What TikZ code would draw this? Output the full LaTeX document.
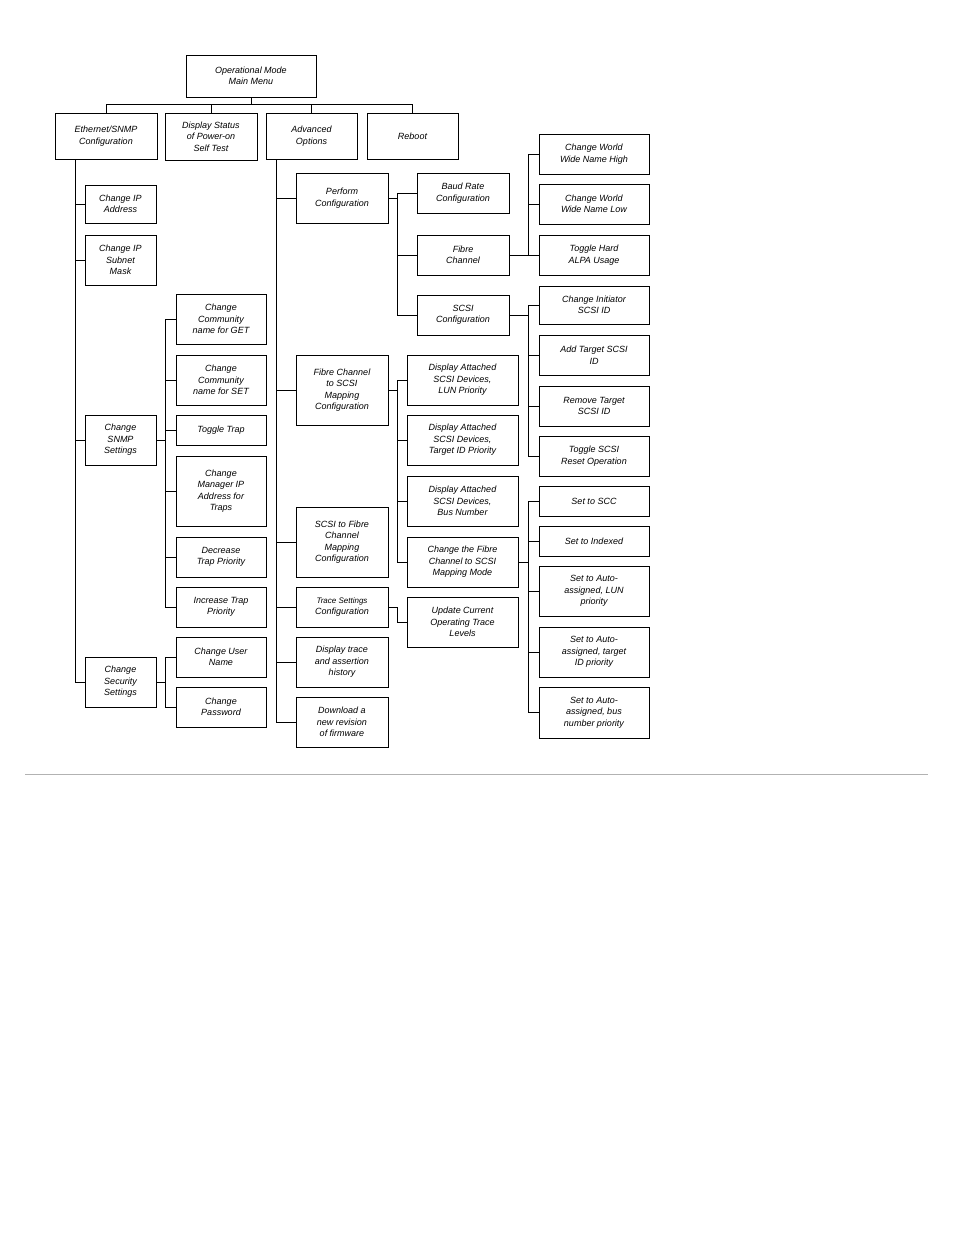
\documentclass[tikz,border=0pt]{standalone}
\usepackage{fontspec}
\setmainfont{Liberation Sans}
\begin{document}
\newcommand{\bx}[6]{\node[menubox,minimum width=#4-#2,minimum height=#5-#3] (#1) at ({(#2+#4)/2},{(#3+#5)/2}) {#6};}
\begin{tikzpicture}[x=1pt,y=-1pt,
  menubox/.style={draw,thick,inner sep=1pt,align=center,font=\fontsize{9}{11.5}\selectfont\itshape},
  link/.style={draw,thick}]
\useasboundingbox (0,0) rectangle (954,1235);
% top level
\bx{main}{186}{55}{316}{97}{Operational Mode\\Main Menu}
\bx{eth}{55}{113}{157}{159}{Ethernet/SNMP\\Configuration}
\bx{post}{165}{113}{257}{160}{Display Status\\of Power-on\\Self Test}
\bx{adv}{266}{113}{357}{159}{Advanced\\Options}
\bx{reboot}{367}{113}{458}{159}{Reboot}
\coordinate (bus) at (251,104);
\draw[link] (main.south) -- (bus);
\draw[link] (bus) -| (eth.north);
\draw[link] (bus) -| (post.north);
\draw[link] (bus) -| (adv.north);
\draw[link] (bus) -| (reboot.north);
% ethernet branch
\bx{cip}{85}{185}{156}{223}{Change IP\\Address}
\bx{cmask}{85}{235}{156}{285}{Change IP\\Subnet\\Mask}
\bx{snmp}{85}{415}{156}{465}{Change\\SNMP\\Settings}
\bx{secur}{85}{657}{156}{707}{Change\\Security\\Settings}
\coordinate (ethsp) at (75,159);
\draw[link] (ethsp) |- (cip.west);
\draw[link] (ethsp) |- (cmask.west);
\draw[link] (ethsp) |- (snmp.west);
\draw[link] (ethsp) |- (secur.west);
% snmp settings
\bx{gcom}{176}{294}{266}{344}{Change\\Community\\name for GET}
\bx{scom}{176}{355}{266}{405}{Change\\Community\\name for SET}
\bx{trap}{176}{415}{266}{445}{Toggle Trap}
\bx{mgr}{176}{456}{266}{526}{Change\\Manager IP\\Address for\\Traps}
\bx{decr}{176}{537}{266}{577}{Decrease\\Trap Priority}
\bx{incr}{176}{587}{266}{627}{Increase Trap\\Priority}
\coordinate (snmpsp) at (165,440);
\draw[link] (snmp.east) -- (snmpsp);
\draw[link] (snmpsp) |- (gcom.west);
\draw[link] (snmpsp) |- (scom.west);
\draw[link] (snmpsp) |- (trap.west);
\draw[link] (snmpsp) |- (mgr.west);
\draw[link] (snmpsp) |- (decr.west);
\draw[link] (snmpsp) |- (incr.west);
% security settings
\bx{user}{176}{637}{266}{677}{Change User\\Name}
\bx{pass}{176}{687}{266}{727}{Change\\Password}
\coordinate (secsp) at (165,682);
\draw[link] (secur.east) -- (secsp);
\draw[link] (secsp) |- (user.west);
\draw[link] (secsp) |- (pass.west);
% advanced options
\bx{perf}{296}{173}{388}{223}{Perform\\Configuration}
\bx{map}{296}{355}{388}{425}{Fibre Channel\\to SCSI\\Mapping\\Configuration}
\bx{rmap}{296}{507}{388}{577}{SCSI to Fibre\\Channel\\Mapping\\Configuration}
\bx{trace}{296}{587}{388}{627}{\fontsize{8}{10}\selectfont Trace Settings\\Configuration}
\bx{hist}{296}{637}{388}{687}{Display trace\\and assertion\\history}
\bx{fw}{296}{697}{388}{747}{Download a\\new revision\\of firmware}
\coordinate (advsp) at (276,159);
\draw[link] (advsp) |- (perf.west);
\draw[link] (advsp) |- (map.west);
\draw[link] (advsp) |- (rmap.west);
\draw[link] (advsp) |- (trace.west);
\draw[link] (advsp) |- (hist.west);
\draw[link] (advsp) |- (fw.west);
% perform configuration
\bx{baud}{417}{173}{509}{213}{Baud Rate\\Configuration}
\bx{fc}{417}{235}{509}{275}{Fibre\\Channel}
\bx{scsi}{417}{295}{509}{335}{SCSI\\Configuration}
\coordinate (perfsp) at (397,198);
\draw[link] (perf.east) -- (perfsp);
\draw[link] (perfsp) |- (baud.west);
\draw[link] (perfsp) |- (fc.west);
\draw[link] (perfsp) |- (scsi.west);
% fibre channel
\bx{wwnh}{539}{134}{649}{174}{Change World\\Wide Name High}
\bx{wwnl}{539}{184}{649}{224}{Change World\\Wide Name Low}
\bx{alpa}{539}{235}{649}{275}{Toggle Hard\\ALPA Usage}
\coordinate (fcsp) at (528,255);
\draw[link] (fc.east) -- (fcsp);
\draw[link] (fcsp) |- (wwnh.west);
\draw[link] (fcsp) |- (wwnl.west);
\draw[link] (fcsp) |- (alpa.west);
% scsi configuration
\bx{init}{539}{286}{649}{324}{Change Initiator\\SCSI ID}
\bx{addt}{539}{335}{649}{375}{Add Target  SCSI\\ID}
\bx{remt}{539}{386}{649}{426}{Remove  Target\\SCSI ID}
\bx{rst}{539}{436}{649}{476}{Toggle SCSI\\Reset Operation}
\coordinate (scsisp) at (528,315);
\draw[link] (scsi.east) -- (scsisp);
\draw[link] (scsisp) |- (init.west);
\draw[link] (scsisp) |- (addt.west);
\draw[link] (scsisp) |- (remt.west);
\draw[link] (scsisp) |- (rst.west);
% fibre channel to scsi mapping
\bx{dlun}{407}{355}{518}{405}{Display Attached\\SCSI Devices,\\LUN Priority}
\bx{dtid}{407}{415}{518}{465}{Display Attached\\SCSI Devices,\\Target ID Priority}
\bx{dbus}{407}{476}{518}{526}{Display Attached\\SCSI Devices,\\Bus Number}
\bx{mode}{407}{537}{518}{587}{Change the Fibre\\Channel to SCSI\\Mapping Mode}
\coordinate (mapsp) at (397,390);
\draw[link] (map.east) -- (mapsp);
\draw[link] (mapsp) |- (dlun.west);
\draw[link] (mapsp) |- (dtid.west);
\draw[link] (mapsp) |- (dbus.west);
\draw[link] (mapsp) |- (mode.west);
% mapping mode
\bx{scc}{539}{486}{649}{516}{Set to SCC}
\bx{idx}{539}{526}{649}{556}{Set to Indexed}
\bx{alun}{539}{566}{649}{616}{Set to Auto-\\assigned, LUN\\priority}
\bx{atid}{539}{627}{649}{677}{Set to Auto-\\assigned, target\\ID priority}
\bx{abus}{539}{687}{649}{738}{Set to Auto-\\assigned, bus\\number priority}
\coordinate (modesp) at (528,562);
\draw[link] (mode.east) -- (modesp);
\draw[link] (modesp) |- (scc.west);
\draw[link] (modesp) |- (idx.west);
\draw[link] (modesp) |- (alun.west);
\draw[link] (modesp) |- (atid.west);
\draw[link] (modesp) |- (abus.west);
% trace settings
\bx{upd}{407}{597}{518}{647}{Update Current\\Operating Trace\\Levels}
\coordinate (tracesp) at (397,607);
\draw[link] (trace.east) -- (tracesp) -- (tracesp |- upd.west) -- (upd.west);
% rule
\draw[gray!60,thick] (25,774) -- (928,774);
\end{tikzpicture}
\end{document}
